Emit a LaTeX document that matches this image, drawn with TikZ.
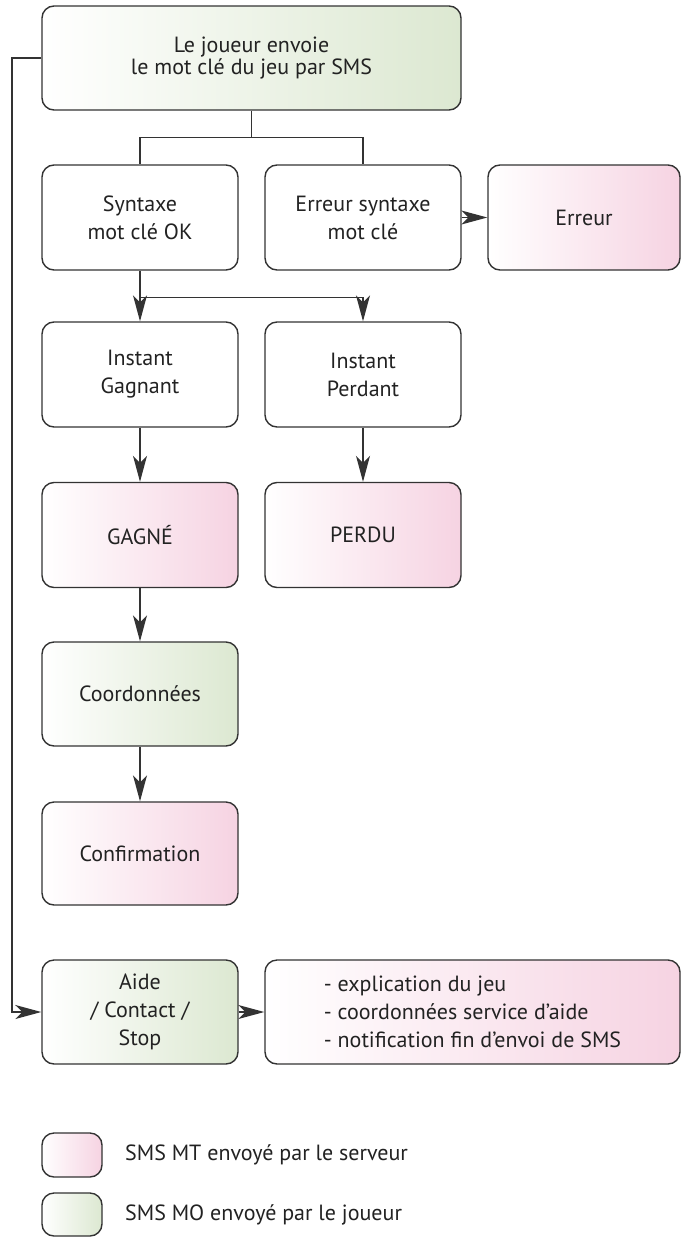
\documentclass[tikz,border=0pt]{standalone}
\usepackage{fontspec}
\setmainfont{PT Sans}
\usetikzlibrary{arrows.meta}
\definecolor{pinkR}{HTML}{F6D3E2}
\definecolor{greenR}{HTML}{DCE8D1}
\definecolor{lineC}{HTML}{333333}
\definecolor{txtC}{HTML}{222222}
\tikzset{
  box/.style={draw=lineC, line width=1.4pt, rounded corners=12pt, align=center,
    text=txtC, font=\fontsize{22}{28}\selectfont, minimum width=196pt, minimum height=105pt, inner sep=0pt},
  pinkbox/.style={box, left color=white, right color=pinkR},
  greenbox/.style={box, left color=white, right color=greenR},
  conn/.style={draw=lineC, line width=1.4pt},
  arr/.style={conn, -{Stealth[length=26pt,width=14pt,inset=7pt]}},
  legtxt/.style={anchor=west, text=txtC, font=\fontsize{22}{24}\selectfont, inner sep=0pt}
}
\begin{document}
\begin{tikzpicture}[x=1pt,y=-1pt]
\useasboundingbox (0,0) rectangle (681,1237);
\node[greenbox, minimum width=419pt, minimum height=104pt, font=\fontsize{22}{22}\selectfont] (top) at (251.5,58) {Le joueur envoie\\le mot clé du jeu par SMS};
\node[box] (syn) at (140,217.5) {Syntaxe\\mot clé OK};
\node[box] (err) at (363,217.5) {Erreur syntaxe\\mot clé};
\node[pinkbox, minimum width=192pt] (erreur) at (584,217.5) {Erreur};
\node[box] (ig) at (140,374.5) {Instant\\Gagnant};
\node[box] (ip) at (363,374.5) {Instant\\Perdant};
\node[pinkbox] (gagne) at (140,535) {GAGNÉ};
\node[pinkbox] (perdu) at (363,535) {PERDU};
\node[greenbox, minimum height=104pt] (coord) at (140,694) {Coordonnées};
\node[pinkbox, minimum height=103pt] (conf) at (140,853.5) {Confirmation};
\node[greenbox, minimum height=104pt] (aide) at (140,1012) {Aide\\/ Contact /\\Stop};
\node[pinkbox, minimum width=415pt, minimum height=104pt, align=left] (info) at (472.5,1012) {- explication du jeu\\- coordonnées service d’aide\\- notification fin d’envoi de SMS};
\node[pinkbox, minimum width=60pt, minimum height=44pt] (leg1) at (72,1155) {};
\node[greenbox, minimum width=60pt, minimum height=43pt] (leg2) at (72,1214.5) {};
\node[legtxt] (lt1) at (125,1155) {SMS MT envoyé par le serveur};
\node[legtxt] (lt2) at (125,1214.5) {SMS MO envoyé par le joueur};
% connectors
\coordinate (j1) at ([yshift=-27pt]top.south);
\draw[conn] (top.south) -- (j1);
\draw[conn] (j1) -| (syn.north);
\draw[conn] (j1) -| (err.north);
\coordinate (j2) at ([yshift=-27pt]syn.south);
\draw[arr] (syn.south) -- (ig.north);
\draw[arr] (j2) -| (ip.north);
\draw[arr] (err.east) -- (erreur.west);
\draw[arr] (ig.south) -- (gagne.north);
\draw[arr] (ip.south) -- (perdu.north);
\draw[arr] (gagne.south) -- (coord.north);
\draw[arr] (coord.south) -- (conf.north);
\coordinate (fb) at (12,58);
\draw[arr] (top.west) -- (fb) |- (aide.west);
\draw[arr] (aide.east) -- (info.west);
\end{tikzpicture}
\end{document}
